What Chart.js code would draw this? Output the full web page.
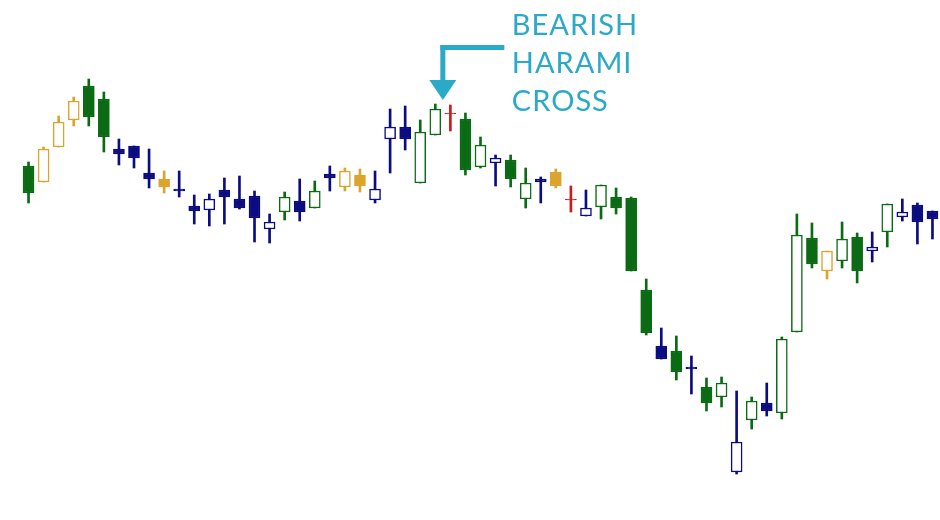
<!DOCTYPE html>
<html>
<head>
<meta charset="utf-8">
<script src="https://cdn.jsdelivr.net/npm/chart.js@4.4.1/dist/chart.umd.min.js"></script>
<style>
  html, body { margin: 0; padding: 0; background: #fff; }
  #wrap { width: 940px; height: 520px; position: relative; }
</style>
</head>
<body>
<div id="wrap"><canvas id="candles"></canvas></div>
<script>
// OHLC (arbitrary price units, no axis shown)
const opens = [354, 338, 373, 400, 434, 421, 371, 374, 347, 341, 331, 314, 310, 330, 321, 324, 291, 308, 319, 312,
  346, 333, 345, 320, 381, 393, 337, 385, 407, 401, 353, 357, 360, 321, 341, 348, 321, 304, 313, 323,
  322, 230, 174, 169, 153, 133, 123, 48, 100, 117, 107, 188, 282, 249, 259, 283, 269, 288, 303, 315, 309];
const highs = [358, 373, 404, 423, 441, 428, 381, 374, 371, 349, 349, 325, 326, 342, 344, 329, 306, 328, 341, 339,
  354, 352, 351, 349, 411, 414, 400, 416, 415, 407, 383, 365, 365, 352, 343, 351, 334, 330, 335, 332,
  323, 241, 192, 184, 164, 142, 143, 129, 123, 137, 183, 306, 297, 269, 298, 287, 288, 316, 321, 317, 309];
const lows = [317, 338, 373, 394, 394, 368, 355, 352, 332, 327, 323, 296, 294, 296, 311, 278, 277, 300, 299, 312,
  329, 329, 328, 317, 347, 370, 337, 385, 389, 345, 352, 334, 333, 312, 317, 332, 308, 304, 301, 306,
  249, 185, 161, 140, 126, 109, 113, 46, 91, 104, 101, 188, 252, 241, 252, 237, 258, 273, 299, 276, 281];
const closes = [327, 371, 398, 419, 403, 383, 366, 362, 341, 333, 329, 309, 321, 323, 312, 302, 298, 323, 308, 329,
  342, 349, 334, 331, 393, 381, 388, 411, 406, 350, 375, 362, 341, 337, 338, 334, 320, 312, 335, 312,
  249, 187, 161, 148, 151, 117, 137, 78, 119, 109, 181, 285, 256, 269, 281, 249, 273, 316, 308, 298, 301];
// colour group of each candle: G green, Y gold, N navy, R red
const groups = ["G", "Y", "Y", "Y", "G", "G", "N", "N", "N", "Y", "N", "N", "N", "N", "N", "N", "N", "G", "N", "G",
  "N", "Y", "Y", "N", "N", "N", "G", "G", "R", "G", "G", "N", "G", "G", "N", "Y", "R", "N", "G", "G",
  "G", "G", "N", "G", "N", "G", "G", "N", "G", "N", "G", "G", "G", "Y", "G", "G", "N", "G", "N", "N", "N"];
const patternIndex = 27; // first candle of the harami cross
const noteLines = ["BEARISH", "HARAMI", "CROSS"];

const palette = { G: "#0b6b14", Y: "#dba42d", N: "#0c0c82", R: "#cc1a1a" };
const labels = opens.map((_, i) => i + 1);
const teal = "#2aaac8";

const bodyFill = opens.map((o, i) => (closes[i] < o || groups[i] === "R") ? palette[groups[i]] : "#ffffff");
const lineColor = groups.map((g) => palette[g]);

// arrow + caption
const notePlugin = {
  id: "note",
  afterDatasetsDraw(chart) {
    const ctx = chart.ctx;
    const xs = chart.scales.x;
    const ys = chart.scales.y;
    const x = (xs.getPixelForValue(patternIndex) + xs.getPixelForValue(patternIndex + 1)) / 2;
    const tip = ys.getPixelForValue(highs[patternIndex]) - 4;
    const top = tip - 55;
    ctx.save();
    ctx.fillStyle = teal;
    // shaft
    ctx.fillRect(x - 2.5, top, 5, 36);
    ctx.fillRect(x - 2.5, top, 64, 5);
    // head
    ctx.beginPath();
    ctx.moveTo(x - 13.5, tip - 20);
    ctx.lineTo(x + 13.5, tip - 20);
    ctx.lineTo(x, tip);
    ctx.closePath();
    ctx.fill();
    // text
    ctx.font = "29px Lato";
    ctx.letterSpacing = "1px";
    ctx.textBaseline = "alphabetic";
    noteLines.forEach((t, i) => ctx.fillText(t, x + 69, top - 10 + i * 38));
    ctx.restore();
  }
};

new Chart(document.getElementById("candles"), {
  type: "bar",
  data: {
    labels: labels,
    datasets: [
      {
        label: "body",
        data: opens.map((o, i) => [o, closes[i]]),
        backgroundColor: bodyFill,
        borderColor: lineColor,
        borderWidth: 1.5,
        borderSkipped: false,
        barThickness: 11,
        grouped: false,
        order: 0
      },
      {
        label: "wick",
        data: lows.map((l, i) => [l, highs[i]]),
        backgroundColor: lineColor,
        borderWidth: 0,
        barThickness: 2,
        grouped: false,
        order: 1
      }
    ]
  },
  options: {
    responsive: true,
    maintainAspectRatio: false,
    animation: false,
    layout: { padding: { left: 21, right: 0, top: 0, bottom: 0 } },
    plugins: { legend: { display: false }, tooltip: { enabled: false } },
    scales: {
      x: { display: false, offset: true },
      y: { display: false, min: 0, max: 520 }
    }
  },
  plugins: [notePlugin]
});
</script>
</body>
</html>
